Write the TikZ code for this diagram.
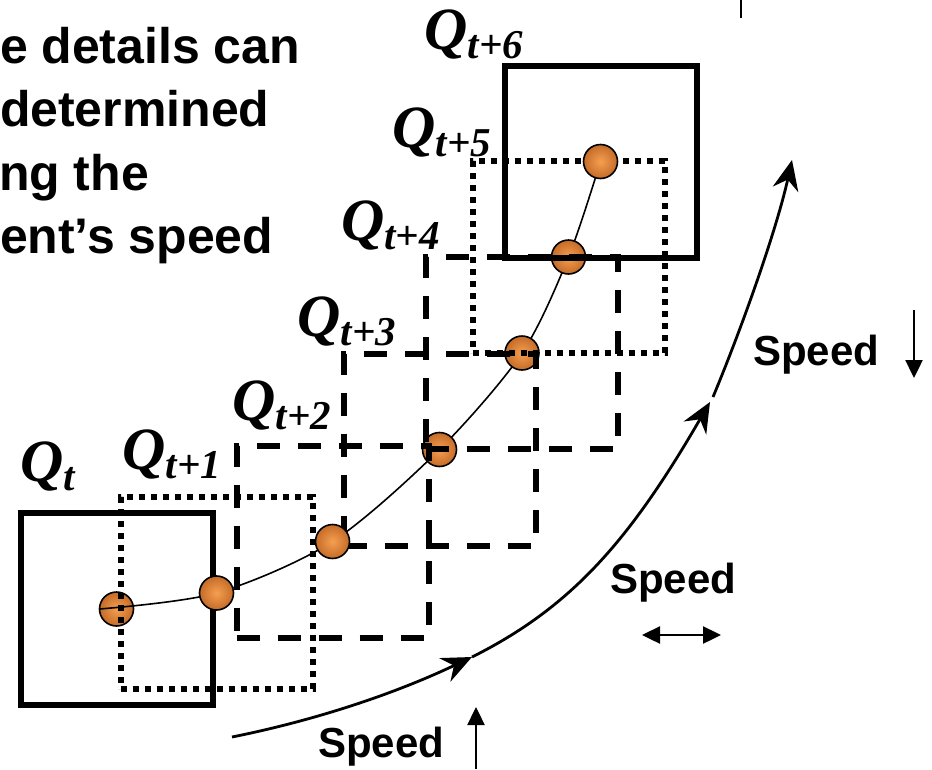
\documentclass[tikz,border=0pt]{standalone}
\usepackage{fontspec}
\setmainfont{Liberation Sans}
\newfontfamily\qfont{Liberation Serif}
\usetikzlibrary{arrows.meta,calc,positioning}
\definecolor{ballhi}{RGB}{246,158,80}
\definecolor{balllo}{RGB}{196,108,40}
\newcommand\Qidx[1]{\raisebox{-9pt}{\fontsize{41}{44}\selectfont #1}}

\begin{document}
\begin{tikzpicture}[
  x=1pt, y=-1pt,
  every node/.style={inner sep=0pt, outer sep=0pt},
  headline/.style={anchor=base west, font=\fontsize{50}{60}\selectfont\bfseries},
  speedlab/.style={anchor=base west, font=\fontsize{42}{50}\selectfont\bfseries},
  qlab/.style={anchor=base west, font=\fontsize{60}{64}\selectfont\qfont\bfseries\itshape},
  frame/.style={rectangle, draw, line width=6pt, minimum width=192pt, minimum height=192pt},
  solidframe/.style={frame},
  dotframe/.style={frame, dash pattern=on 6pt off 6pt},
  dashframe/.style={frame, dash pattern=on 23pt off 18pt},
  ball/.style={circle, draw, line width=1.6pt, minimum size=34pt, inner color=ballhi, outer color=balllo},
  track/.style={line width=1.6pt},
  flow/.style={line width=2.8pt, -{Stealth[length=30pt,width=26pt,inset=10pt]}},
  speedarr/.style={line width=2.4pt, -{Triangle[length=18pt,width=17pt]}},
  speedboth/.style={line width=2.4pt, {Triangle[length=18pt,width=17pt]}-{Triangle[length=18pt,width=17pt]}}
]
  \useasboundingbox (0,0) rectangle (932,769);

  % text block, cut at the left edge
  \node[headline] (l1) at (0,63) {e details can};
  \node[headline] (l2) at (0,126) {determined};
  \node[headline] (l3) at (-1,190) {ng the};
  \node[headline] (l4) at (0,253) {ent’s speed};

  % window centres
  \coordinate (p0) at (116.5,609);
  \coordinate (p1) at (216.5,593);
  \coordinate (p2) at (332.5,541.5);
  \coordinate (p3) at (439.5,449.5);
  \coordinate (p4) at (522,353);
  \coordinate (p5) at (568.5,257);
  \coordinate (p6) at (600.5,161.5);

  \node[ball] (b0) at (p0) {};
  \draw[track] plot[smooth] coordinates {(b0.west) (p1) (p2) (p3) (p4) (p5) (p6)};
  \node[ball] (b3) at (p3) {};
  \node[ball] (b4) at (p4) {};
  \node[ball] (b5) at (p5) {};

  \node[solidframe] (q0) at (p0) {};
  \node[dotframe] (q1) at (p1) {};
  \node[dashframe] (q2) at (p2) {};
  \node[dashframe] (q3) at (p3) {};
  \node[dashframe] (q4) at (p4) {};
  \node[dotframe] (q5) at (p5) {};
  \node[solidframe] (q6) at (p6) {};

  \node[ball] (b1) at (p1) {};
  \node[ball] (b2) at (p2) {};
  \node[ball] (b6) at (p6) {};

  % window labels
  \node[qlab] (lq0) at ($(q0.north west)+(0,-32)$) {Q\Qidx{t}};
  \node[qlab] (lq1) at ($(q1.north west)+(2,-28)$) {Q\Qidx{t+1}};
  \node[qlab] (lq2) at ($(q2.north west)+(-4,-25)$) {Q\Qidx{t+2}};
  \node[qlab] (lq3) at ($(q3.north west)+(-46,-17)$) {Q\Qidx{t+3}};
  \node[qlab] (lq4) at ($(q4.north west)+(-85,-17)$) {Q\Qidx{t+4}};
  \node[qlab] (lq5) at ($(q5.north west)+(-80,-14)$) {Q\Qidx{t+5}};
  \node[qlab] (lq6) at ($(q6.north west)+(-80,-16)$) {Q\Qidx{t+6}};

  % speed curve
  \coordinate (c0) at (232,737);
  \coordinate (c1) at (472,657);
  \coordinate (c2) at (710,402);
  \coordinate (c3) at (713,397);
  \coordinate (c4) at (792,160);
  \draw[flow] (c0) .. controls +(80,-16) and +(-80,38) .. (c1);
  \draw[flow] (c1) .. controls +(100,-50) and +(-80,138) .. (c2);
  \draw[flow] (c3) .. controls +(30,-72) and +(-15,68) .. (c4);

  \node[speedlab] (sp1) at (753,365) {Speed};
  \node[speedlab] (sp2) at (610,593) {Speed};
  \node[speedlab] (sp3) at (318,757) {Speed};

  \coordinate (dn1) at (914,310);
  \coordinate (dn2) at (914,378);
  \coordinate (lr1) at (642,635);
  \coordinate (lr2) at (721,635);
  \coordinate (up1) at (476,769);
  \coordinate (up2) at (476,707);
  \draw[speedarr] (dn1) -- (dn2);
  \draw[speedboth] (lr1) -- (lr2);
  \draw[speedarr] (up1) -- (up2);

  \coordinate (tk1) at (741,0);
  \coordinate (tk2) at (741,18);
  \draw[line width=1.5pt] (tk1) -- (tk2);
\end{tikzpicture}
\end{document}
